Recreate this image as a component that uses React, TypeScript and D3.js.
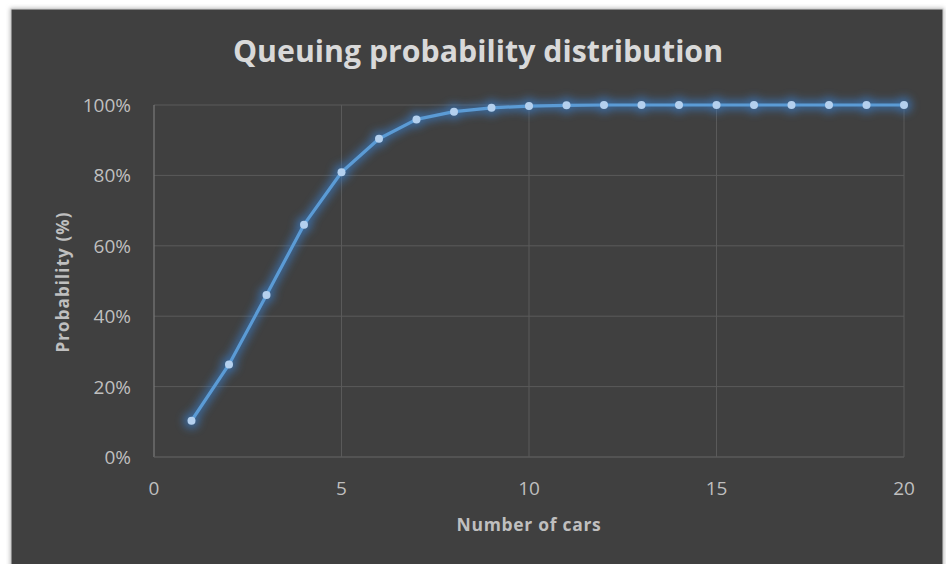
import React from "react";
import * as d3 from "d3";

const cars = [1, 2, 3, 4, 5, 6, 7, 8, 9, 10, 11, 12, 13, 14, 15, 16, 17, 18, 19, 20];
const probability = [0.103, 0.263, 0.46, 0.66, 0.809, 0.904, 0.959, 0.981, 0.992, 0.997, 0.999, 1, 1, 1, 1, 1, 1, 1, 1, 1];
const xTicks = [0, 5, 10, 15, 20];
const yTicks = [0, 0.2, 0.4, 0.6, 0.8, 1];

const W = 946;
const H = 564;
const plot = { left: 154, right: 904, top: 105, bottom: 457 };

export default function App() {
  const x = d3.scaleLinear().domain([0, 20]).range([plot.left, plot.right]);
  const y = d3.scaleLinear().domain([0, 1]).range([plot.bottom, plot.top]);
  const pts = cars.map((c, i) => [x(c), y(probability[i])] as [number, number]);
  const line = d3.line()(pts) || "";
  const font = "'Open Sans', sans-serif";
  return (
    <svg width={W} height={H} style={{ position: "absolute", left: 0, top: 0, background: "#fff" }}>
      <defs>
        <filter id="glow" x="-20%" y="-20%" width="140%" height="140%">
          <feGaussianBlur stdDeviation="4" />
        </filter>
        <filter id="shadow" x="-5%" y="-5%" width="110%" height="110%">
          <feGaussianBlur stdDeviation="2" />
        </filter>
      </defs>
      <rect x={10} y={8} width={934} height={570} fill="#bdbdbd" filter="url(#shadow)" />
      <rect x={11} y={9} width={932} height={570} fill="#404040" stroke="#d0d0d0" strokeWidth={1} />
      <text x={478} y={62} textAnchor="middle" fontFamily={font} fontWeight="bold" fontSize={30.3} fill="#d9d9d9">
        Queuing probability distribution
      </text>
      {yTicks.map((t) => (
        <g key={"y" + t}>
          <line x1={plot.left} x2={plot.right} y1={y(t)} y2={y(t)} stroke="#5a5a5a" strokeWidth={1} />
          <text x={131} y={y(t) + 7} textAnchor="end" fontFamily={font} fontSize={19} fill="#bfbfbf">
            {Math.round(t * 100) + "%"}
          </text>
        </g>
      ))}
      {xTicks.map((t) => (
        <g key={"x" + t}>
          {t > 0 && (
            <line x1={x(t)} x2={x(t)} y1={plot.top} y2={plot.bottom} stroke="#5a5a5a" strokeWidth={1} />
          )}
          <text x={x(t)} y={495} textAnchor="middle" fontFamily={font} fontSize={19} fill="#bfbfbf">
            {t}
          </text>
        </g>
      ))}
      <line x1={plot.left} x2={plot.left} y1={plot.top} y2={plot.bottom} stroke="#7a7a7a" strokeWidth={1.2} />
      <line x1={plot.left} x2={plot.right} y1={plot.bottom} y2={plot.bottom} stroke="#5a5a5a" strokeWidth={1.2} />
      <g filter="url(#glow)" opacity={0.7}>
        <path d={line} fill="none" stroke="#3a7cc4" strokeWidth={9} strokeLinejoin="round" />
        {pts.map((p, i) => (
          <circle key={"g" + i} cx={p[0]} cy={p[1]} r={8} fill="#3a7cc4" />
        ))}
      </g>
      <path d={line} fill="none" stroke="#5b9bd5" strokeWidth={3.2} strokeLinejoin="round" />
      {pts.map((p, i) => (
        <circle key={"m" + i} cx={p[0]} cy={p[1]} r={4} fill="#b4d0ee" />
      ))}
      <text x={529} y={531} textAnchor="middle" fontFamily={font} fontWeight="bold" fontSize={17.5} fill="#bfbfbf" letterSpacing={0.7}>
        Number of cars
      </text>
      <text
        transform={`translate(69, 282) rotate(-90)`}
        textAnchor="middle"
        fontFamily={font}
        fontWeight="bold"
        fontSize={17}
        fill="#bfbfbf"
        letterSpacing={1.1}
      >
        Probability (%)
      </text>
    </svg>
  );
}
